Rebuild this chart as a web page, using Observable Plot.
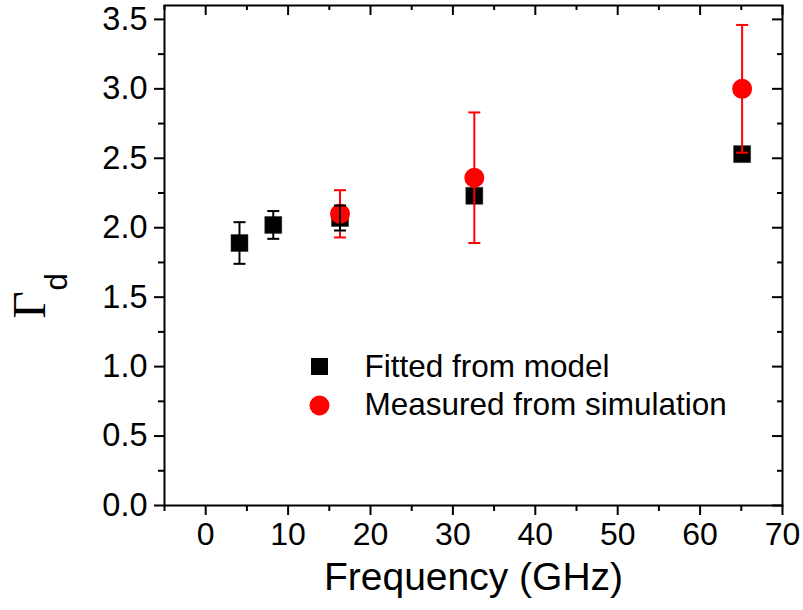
<!DOCTYPE html>
<html>
<head>
<meta charset="utf-8">
<script src="https://cdn.jsdelivr.net/npm/d3@7"></script>
<script src="https://cdn.jsdelivr.net/npm/@observablehq/plot@0.6"></script>
<style>
  html, body { margin: 0; padding: 0; background: #fff; }
  #chart svg { display: block; }
</style>
</head>
<body>
<div id="chart"></div>
<script>
// ---- data ----
const fitFreq  = [4.1, 8.2, 16.3, 32.6, 65.1];
const fitGamma = [1.89, 2.02, 2.07, 2.23, 2.53];
const fitLow   = [1.74, 1.92, 1.98, null, null];
const fitHigh  = [2.04, 2.12, 2.16, null, null];

const simFreq  = [16.3, 32.6, 65.1];
const simGamma = [2.10, 2.36, 3.00];
const simLow   = [1.93, 1.89, 2.54];
const simHigh  = [2.27, 2.83, 3.46];

const xMajor = [0, 10, 20, 30, 40, 50, 60, 70];
const xMinor = [-5, 5, 15, 25, 35, 45, 55, 65];
const yMajor = [0, 0.5, 1.0, 1.5, 2.0, 2.5, 3.0, 3.5];
const yMinor = [0.25, 0.75, 1.25, 1.75, 2.25, 2.75, 3.25];

const legendLabels = ["Fitted from model", "Measured from simulation"];
const xLabel = "Frequency (GHz)";

// ---- tables ----
const fit = fitFreq.map((f, i) => ({f, g: fitGamma[i], lo: fitLow[i], hi: fitHigh[i]}));
const fitErr = fit.filter(d => d.lo != null);
const sim = simFreq.map((f, i) => ({f, g: simGamma[i], lo: simLow[i], hi: simHigh[i]}));

const SANS = "'Liberation Sans', Arial, Helvetica, sans-serif";
const SERIF = "'Liberation Serif', 'Times New Roman', serif";
const RED = "#ff0000";

// horizontal cap symbol for error bars
const cap = {draw(ctx, size) { const w = Math.sqrt(size / Math.PI); ctx.moveTo(-w, 0); ctx.lineTo(w, 0); }};

const W = 803, H = 610, mL = 164, mR = 21, mT = 5, mB = 105;
const fw = W - mL - mR, fh = H - mT - mB;

const errMarks = (data, color) => [
  Plot.ruleX(data, {x: "f", y1: "lo", y2: "hi", stroke: color, strokeWidth: 2}),
  Plot.dot(data, {x: "f", y: "lo", symbol: cap, r: 6, stroke: color, strokeWidth: 2, fill: "none"}),
  Plot.dot(data, {x: "f", y: "hi", symbol: cap, r: 6, stroke: color, strokeWidth: 2, fill: "none"})
];

const chart = Plot.plot({
  width: W, height: H,
  marginLeft: mL, marginRight: mR, marginTop: mT, marginBottom: mB,
  style: {fontFamily: SANS, color: "black", background: "white", overflow: "visible"},
  x: {domain: [-5, 70]},
  y: {domain: [0, 3.6]},
  marks: [
    // bottom axis (outward)
    Plot.axisX({ticks: xMajor, tickSize: 10, tickPadding: 7, strokeWidth: 2, fontSize: 32, label: null, tickFormat: d3.format("d")}),
    Plot.axisX({ticks: xMinor, tickSize: 6, strokeWidth: 2, label: null, tickFormat: () => ""}),
    // left axis (outward)
    Plot.axisY({ticks: yMajor, tickSize: 10, tickPadding: 7, strokeWidth: 2, fontSize: 32.5, label: null, tickFormat: d3.format(".1f")}),
    Plot.axisY({ticks: yMinor, tickSize: 6, strokeWidth: 2, label: null, tickFormat: () => ""}),
    // top mirrored ticks (inward)
    Plot.tickX(xMajor, {x: d => d, insetBottom: fh - 10, stroke: "black", strokeWidth: 2}),
    Plot.tickX(xMinor, {x: d => d, insetBottom: fh - 5, stroke: "black", strokeWidth: 2}),
    // right mirrored ticks (inward)
    Plot.tickY(yMajor, {y: d => d, insetLeft: fw - 10, stroke: "black", strokeWidth: 2}),
    Plot.tickY(yMinor, {y: d => d, insetLeft: fw - 5, stroke: "black", strokeWidth: 2}),
    Plot.frame({stroke: "black", strokeWidth: 2}),

    // data
    Plot.dot(fit, {x: "f", y: "g", symbol: "square", r: 9.6, fill: "black", stroke: "#333", strokeWidth: 0.5}),
    ...errMarks(sim, RED),
    Plot.dot(sim, {x: "f", y: "g", symbol: "circle", r: 10, fill: RED}),
    ...errMarks(fitErr, "black"),

    // legend
    Plot.dot([legendLabels[0]], {frameAnchor: "top-left", dx: 155, dy: 361, symbol: "square", r: 9.6, fill: "black"}),
    Plot.dot([legendLabels[1]], {frameAnchor: "top-left", dx: 155, dy: 400, symbol: "circle", r: 10, fill: RED}),
    Plot.text([legendLabels[0]], {text: d => d, frameAnchor: "top-left", dx: 200, dy: 361, textAnchor: "start", lineAnchor: "middle", fontSize: 31.5, fill: "black"}),
    Plot.text([legendLabels[1]], {text: d => d, frameAnchor: "top-left", dx: 200, dy: 399, textAnchor: "start", lineAnchor: "middle", fontSize: 31.5, fill: "black"}),

    // x axis label
    Plot.text([xLabel], {text: d => d, frameAnchor: "bottom", dy: 84, lineAnchor: "bottom", fontSize: 39, fill: "black"}),

    // y axis label: Γ with subscript d
    Plot.text(["Γ"], {text: d => d, frameAnchor: "top-left", dx: 44 - mL, dy: 318 - mT, rotate: -90, textAnchor: "start", lineAnchor: "bottom", fontSize: 47, fontFamily: SERIF, fill: "black"}),
    Plot.text(["d"], {text: d => d, frameAnchor: "top-left", dx: 66 - mL, dy: 290 - mT, rotate: -90, textAnchor: "start", lineAnchor: "bottom", fontSize: 31, fill: "black"})
  ]
});
document.getElementById("chart").appendChild(chart);
</script>
</body>
</html>
